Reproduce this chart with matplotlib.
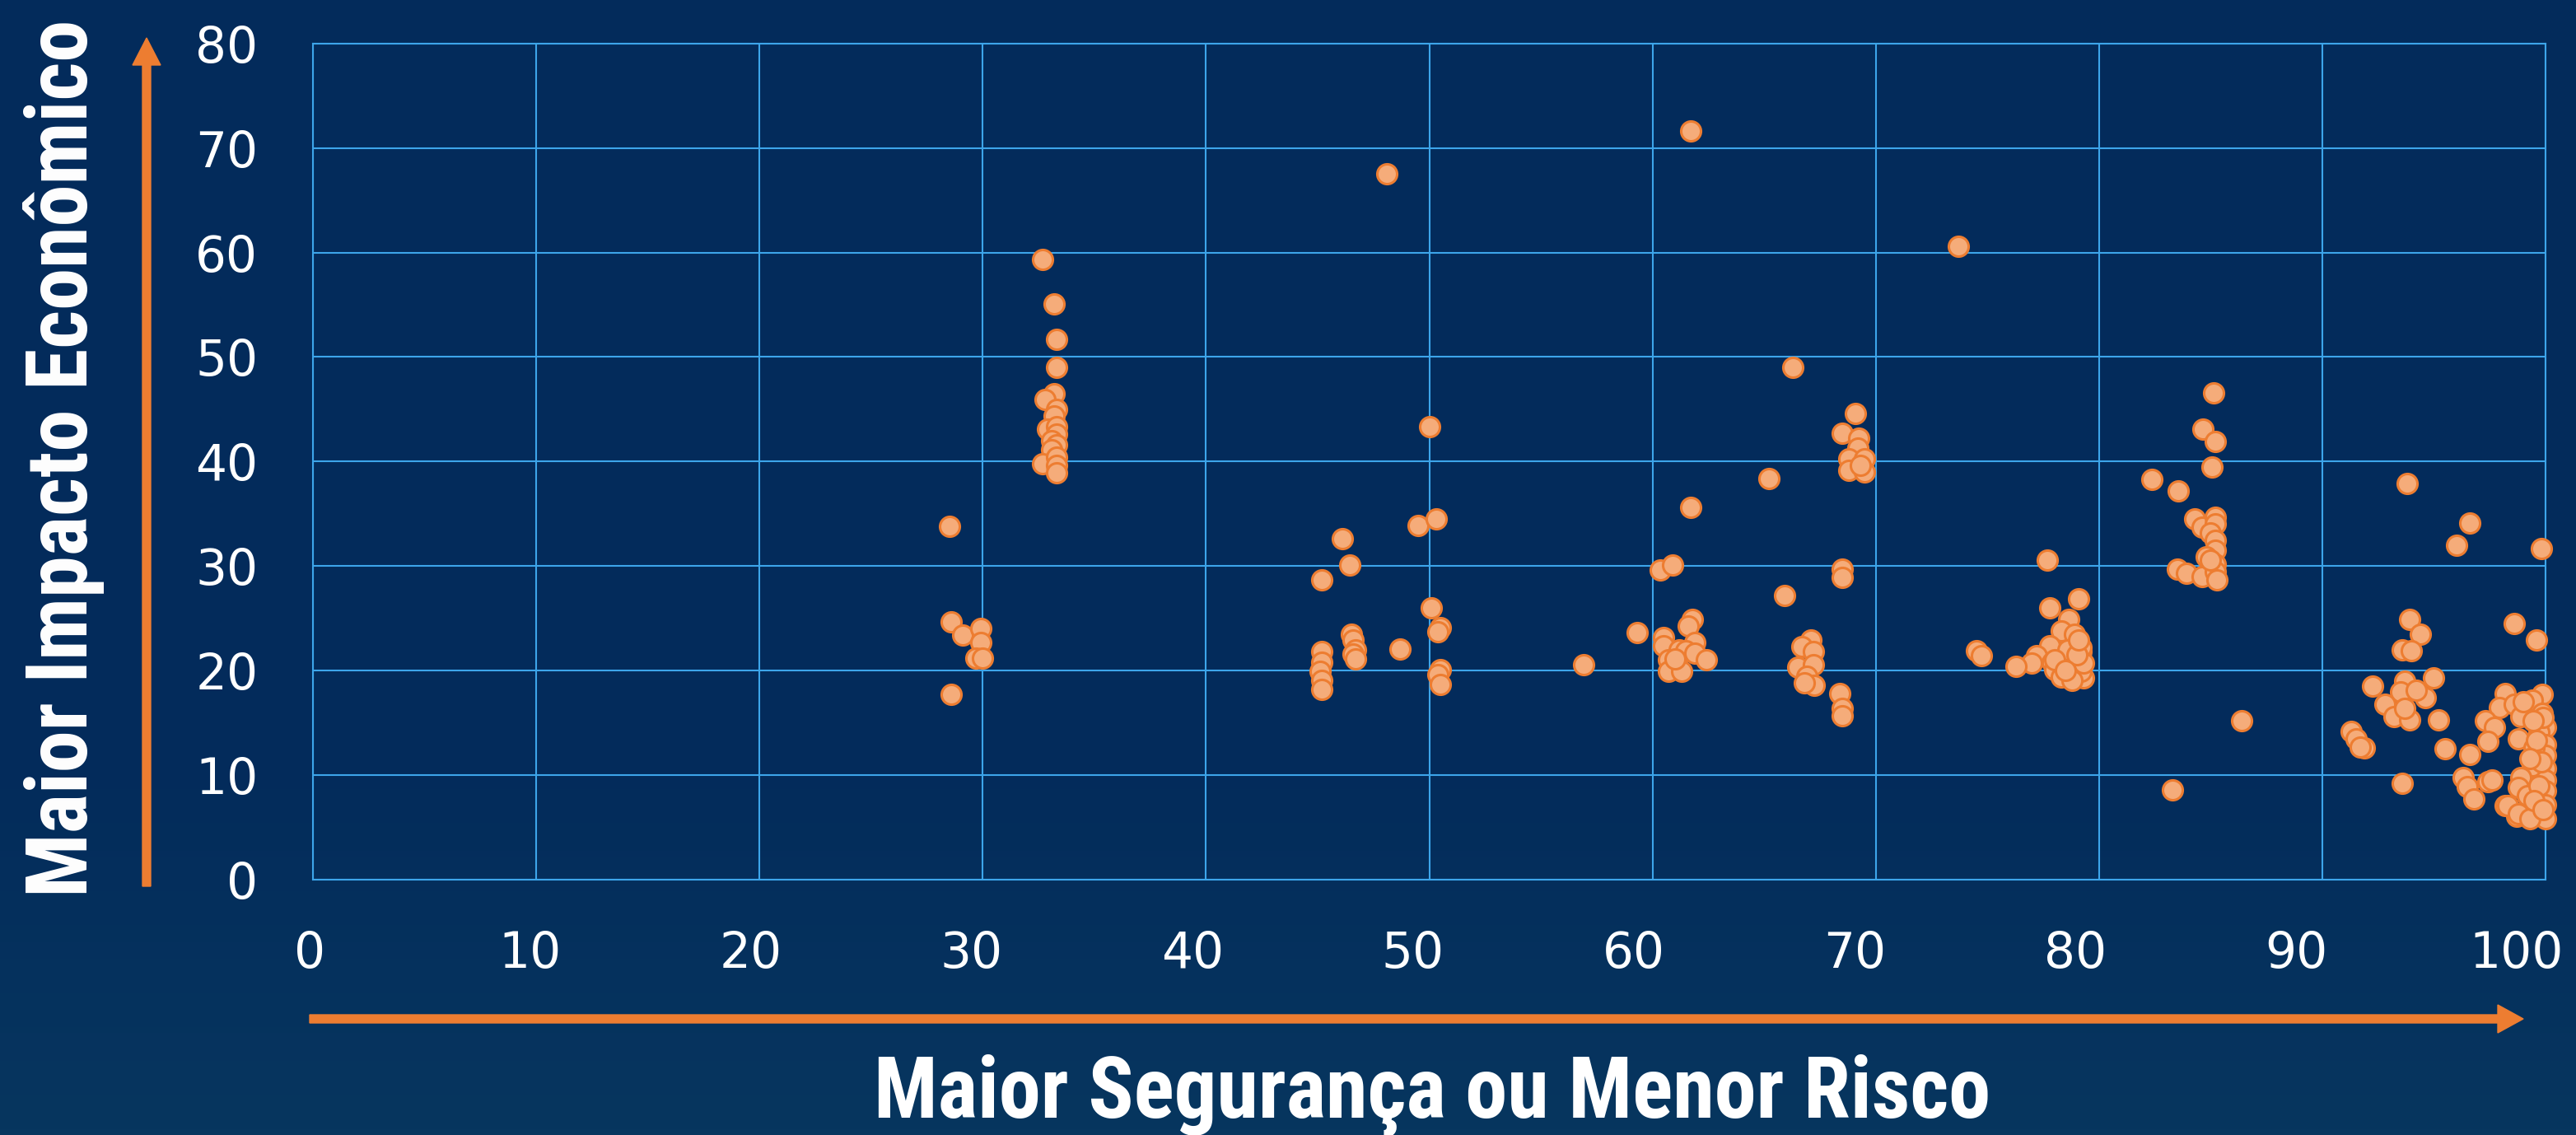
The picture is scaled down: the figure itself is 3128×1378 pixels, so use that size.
import numpy as np
import matplotlib
matplotlib.use("Agg")
import matplotlib.pyplot as plt
from matplotlib.patches import FancyArrow
from matplotlib.colors import LinearSegmentedColormap
from matplotlib import font_manager
from matplotlib.font_manager import FontProperties
from matplotlib.transforms import ScaledTranslation

# ---------------- data ----------------
xa = [28.5, 28.6, 29.1, 29.9, 29.9, 29.7, 30.0, 28.6]
ya = [33.8, 24.7, 23.4, 24.0, 22.7, 21.2, 21.2, 17.7]

xb = [32.7, 33.2, 33.3, 33.3, 33.2, 32.8, 33.3, 33.2, 32.9, 33.3, 33.3, 33.1, 33.3, 33.1, 32.7, 33.3, 33.3, 33.3]
yb = [59.3, 55.1, 51.7, 49.0, 46.5, 45.9, 45.0, 44.4, 43.1, 43.3, 42.6, 42.0, 41.6, 41.1, 39.8, 40.4, 39.6, 38.9]

xc = [48.1, 50.0, 49.5, 50.3, 46.1, 46.45, 45.2, 50.1, 50.5, 50.4, 48.7, 46.5, 46.6, 46.7, 46.6, 46.7,
      45.2, 45.2, 45.1, 45.2, 45.2, 50.5, 50.4, 50.5]
yc = [67.5, 43.3, 33.9, 34.5, 32.6, 30.1, 28.7, 26.0, 24.1, 23.7, 22.1, 23.5, 22.9, 22.0, 21.6, 21.1,
      21.8, 20.8, 19.9, 19.1, 18.2, 20.1, 19.6, 18.7]

xd = [61.7, 61.7, 60.35, 60.9, 59.3, 56.9, 61.8, 61.6, 60.5, 60.5, 61.9, 61.2, 61.5, 61.9, 62.4, 60.7, 60.7, 61.3, 61.0]
yd = [71.6, 35.6, 29.6, 30.1, 23.6, 20.6, 24.9, 24.3, 23.2, 22.4, 22.7, 22.0, 21.9, 21.7, 21.0, 21.0, 19.9, 19.9, 21.1]

xe = [66.3, 65.2, 69.1, 68.5, 69.25, 69.2, 68.8, 69.5, 68.8, 69.5, 69.3, 68.5, 68.5, 65.9, 67.1, 66.7,
      67.2, 66.5, 67.2, 66.9, 67.25, 66.8, 68.4, 68.5, 68.5]
ye = [49.0, 38.4, 44.6, 42.7, 42.2, 41.3, 40.3, 40.3, 39.2, 39.0, 39.6, 29.7, 28.9, 27.2, 22.9, 22.3,
      21.8, 20.3, 20.6, 19.5, 18.6, 18.8, 17.8, 16.4, 15.7]

xf = [73.7, 77.7, 79.1, 77.8, 78.65, 78.3, 78.9, 79.1, 77.8, 77.2, 79.2, 79.25, 77.9, 77.0, 78.0, 78.3,
      78.8, 79.3, 76.3, 74.5, 74.75, 78.9, 79.1, 79.2, 78.6, 78.0,
      79.2, 79.3, 78.8, 79.0, 78.5, 79.1]
yf = [60.6, 30.6, 26.9, 26.0, 24.9, 23.8, 23.5, 22.5, 22.4, 21.4, 21.8, 20.8, 20.8, 20.7, 20.1, 19.4,
      19.4, 19.3, 20.4, 21.9, 21.4, 21.0, 20.4, 19.9, 22.0, 21.0,
      22.2, 20.7, 19.1, 21.5, 20.0, 22.9]

xg = [85.15, 84.65, 85.2, 85.05, 82.35, 83.55, 84.3, 84.6, 85.2, 85.2, 85.0, 85.2, 85.2, 84.8, 85.2,
      83.5, 83.9, 84.6, 85.2, 85.3, 86.4, 83.3, 85.0]
yg = [46.6, 43.1, 41.9, 39.5, 38.3, 37.2, 34.5, 33.7, 34.7, 34.0, 33.2, 32.5, 31.5, 30.9, 30.2,
      29.7, 29.3, 29.0, 29.5, 28.7, 15.2, 8.6, 30.6]

xh = [93.8, 96.6, 96.0, 99.8, 93.9, 94.4, 93.6, 94.0, 98.6, 99.6, 95.0, 92.25, 93.7, 93.5, 94.6, 94.2,
      92.8, 93.2, 93.9, 93.7, 95.2, 91.3, 91.5, 91.9, 91.7, 95.5, 96.6, 93.6, 98.2, 97.95, 98.6, 97.3,
      97.7, 97.4, 96.3, 96.5, 96.8, 97.4, 97.6, 98.2, 98.7]
yh = [37.9, 34.1, 32.0, 31.7, 24.9, 23.5, 22.0, 21.9, 24.5, 22.9, 19.3, 18.5, 19.0, 17.95, 17.45, 18.1,
      16.8, 15.6, 15.3, 16.4, 15.3, 14.2, 13.5, 12.6, 12.7, 12.5, 12.0, 9.2, 17.8, 16.5, 16.8, 15.2,
      14.6, 13.2, 9.8, 8.9, 7.7, 9.4, 9.5, 7.1, 6.1]

xi = [99.85, 99.4, 98.9, 99.85, 100.0, 99.7, 98.8, 100.0, 100.0, 99.5, 100.0, 99.4, 98.9, 100.0, 100.0,
      98.8, 99.2, 100.0, 98.3, 99.5, 100.0, 98.8, 99.3, 99.9, 99.45, 99.0, 99.6, 99.8, 99.3, 99.7, 99.5, 99.9]
yi = [17.7, 17.2, 15.6, 15.95, 14.6, 14.1, 13.5, 12.9, 11.9, 12.6, 10.6, 10.9, 9.8, 9.5, 8.5,
      8.8, 8.0, 7.2, 7.1, 6.3, 5.8, 6.3, 5.8, 15.5, 15.2, 17.0, 13.3, 11.3, 11.6, 9.0, 7.6, 6.7]

x_ticks = [0, 10, 20, 30, 40, 50, 60, 70, 80, 90, 100]
y_ticks = [0, 10, 20, 30, 40, 50, 60, 70, 80]
x_title = "Maior Segurança ou Menor Risco"
y_title = "Maior Impacto Econômico"

xs = xa + xb + xc + xd + xe + xf + xg + xh + xi
ys = ya + yb + yc + yd + ye + yf + yg + yh + yi

# ---------------- style ----------------
BG = "#032b5b"
GRID = "#3da5ea"
ORANGE = "#ed7d31"
FACE = "#f5ac7a"


def find_condensed_bold():
    best = None
    for f in font_manager.fontManager.ttflist:
        name = (f.fname + " " + f.name).lower()
        if ("narrow" in name or "condensed" in name) and (
                (isinstance(f.weight, int) and f.weight >= 600) or str(f.weight) in ("bold", "heavy", "black", "semibold", "demibold")
                or "bold" in f.fname.lower()):
            if "oblique" in name or "italic" in name:
                continue
            score = 0
            if "liberation" in name:
                score = 3
            elif "roboto" in name:
                score = 2
            elif "dejavu" in name:
                score = 1
            if best is None or score > best[0]:
                best = (score, f.fname)
    if best:
        return FontProperties(fname=best[1])
    return FontProperties(family=["Roboto", "DejaVu Sans"], weight="bold")


title_fp = find_condensed_bold()

W, H = 3128, 1378
fig = plt.figure(figsize=(W / 100, H / 100), dpi=100)
fig.patch.set_facecolor(BG)

# subtle background shading (lighter toward the bottom)
bg_ax = fig.add_axes([0, 0, 1, 1], zorder=-10)
grad = np.linspace(0, 1, 200)[:, None] * np.ones((1, 10))
cmap = LinearSegmentedColormap.from_list("bg", [BG, BG, BG, "#07365f"])
bg_ax.imshow(grad, aspect="auto", cmap=cmap, origin="upper", extent=[0, 1, 0, 1])
bg_ax.set_axis_off()

ax = fig.add_axes([380 / W, 1 - 1068 / H, (3091 - 380) / W, (1068 - 52.7) / H])
ax.set_facecolor("none")
ax.set_xlim(0, 100)
ax.set_ylim(0, 80)
ax.set_xticks(x_ticks)
ax.set_yticks(y_ticks)
ax.grid(True, color=GRID, linewidth=1.5)
ax.set_axisbelow(True)
for s in ax.spines.values():
    s.set_color(GRID)
    s.set_linewidth(1.5)
ax.tick_params(axis="both", length=0, labelcolor="white", labelsize=43)
ax.tick_params(axis="x", pad=44)
ax.tick_params(axis="y", pad=48)

# x tick labels in the reference sit slightly left of their grid lines (drifting toward the right)
for v, lab in zip(x_ticks, ax.get_xticklabels()):
    dx_px = -4 - 0.31 * v
    lab.set_transform(lab.get_transform() + ScaledTranslation(dx_px / 100, 0, fig.dpi_scale_trans))

ax.scatter(xs, ys, s=300, facecolor=FACE, edgecolor=ORANGE, linewidth=2.2, zorder=3, clip_on=False)

# axis titles
tx = fig.text(1739 / W, 1 - 1357 / H, x_title, ha="center", va="baseline", color="white",
              fontproperties=title_fp.copy())
ty = fig.text(78 / W, 1 - 556 / H, y_title, ha="center", va="center", rotation=90, color="white",
              fontproperties=title_fp.copy())
tx.set_fontsize(64)
ty.set_fontsize(64)
fig.canvas.draw()
r = fig.canvas.get_renderer()
wx = tx.get_window_extent(r).width
hy = ty.get_window_extent(r).height
size = 64 * 0.5 * (1350 / wx + 1073 / hy)
tx.set_fontsize(size)
ty.set_fontsize(size)

# orange arrows (in inches, figure coordinates)
t = fig.dpi_scale_trans
fig.add_artist(FancyArrow(376 / 100, (H - 1237) / 100, (3033 - 376) / 100, 0, width=0.10,
                          head_width=0.34, head_length=0.31, length_includes_head=False,
                          color=ORANGE, transform=t))
fig.add_artist(FancyArrow(178 / 100, (H - 1076) / 100, 0, (1076 - 79) / 100, width=0.10,
                          head_width=0.34, head_length=0.33, length_includes_head=False,
                          color=ORANGE, transform=t))

fig.savefig("out.png", dpi=100, facecolor=BG)
